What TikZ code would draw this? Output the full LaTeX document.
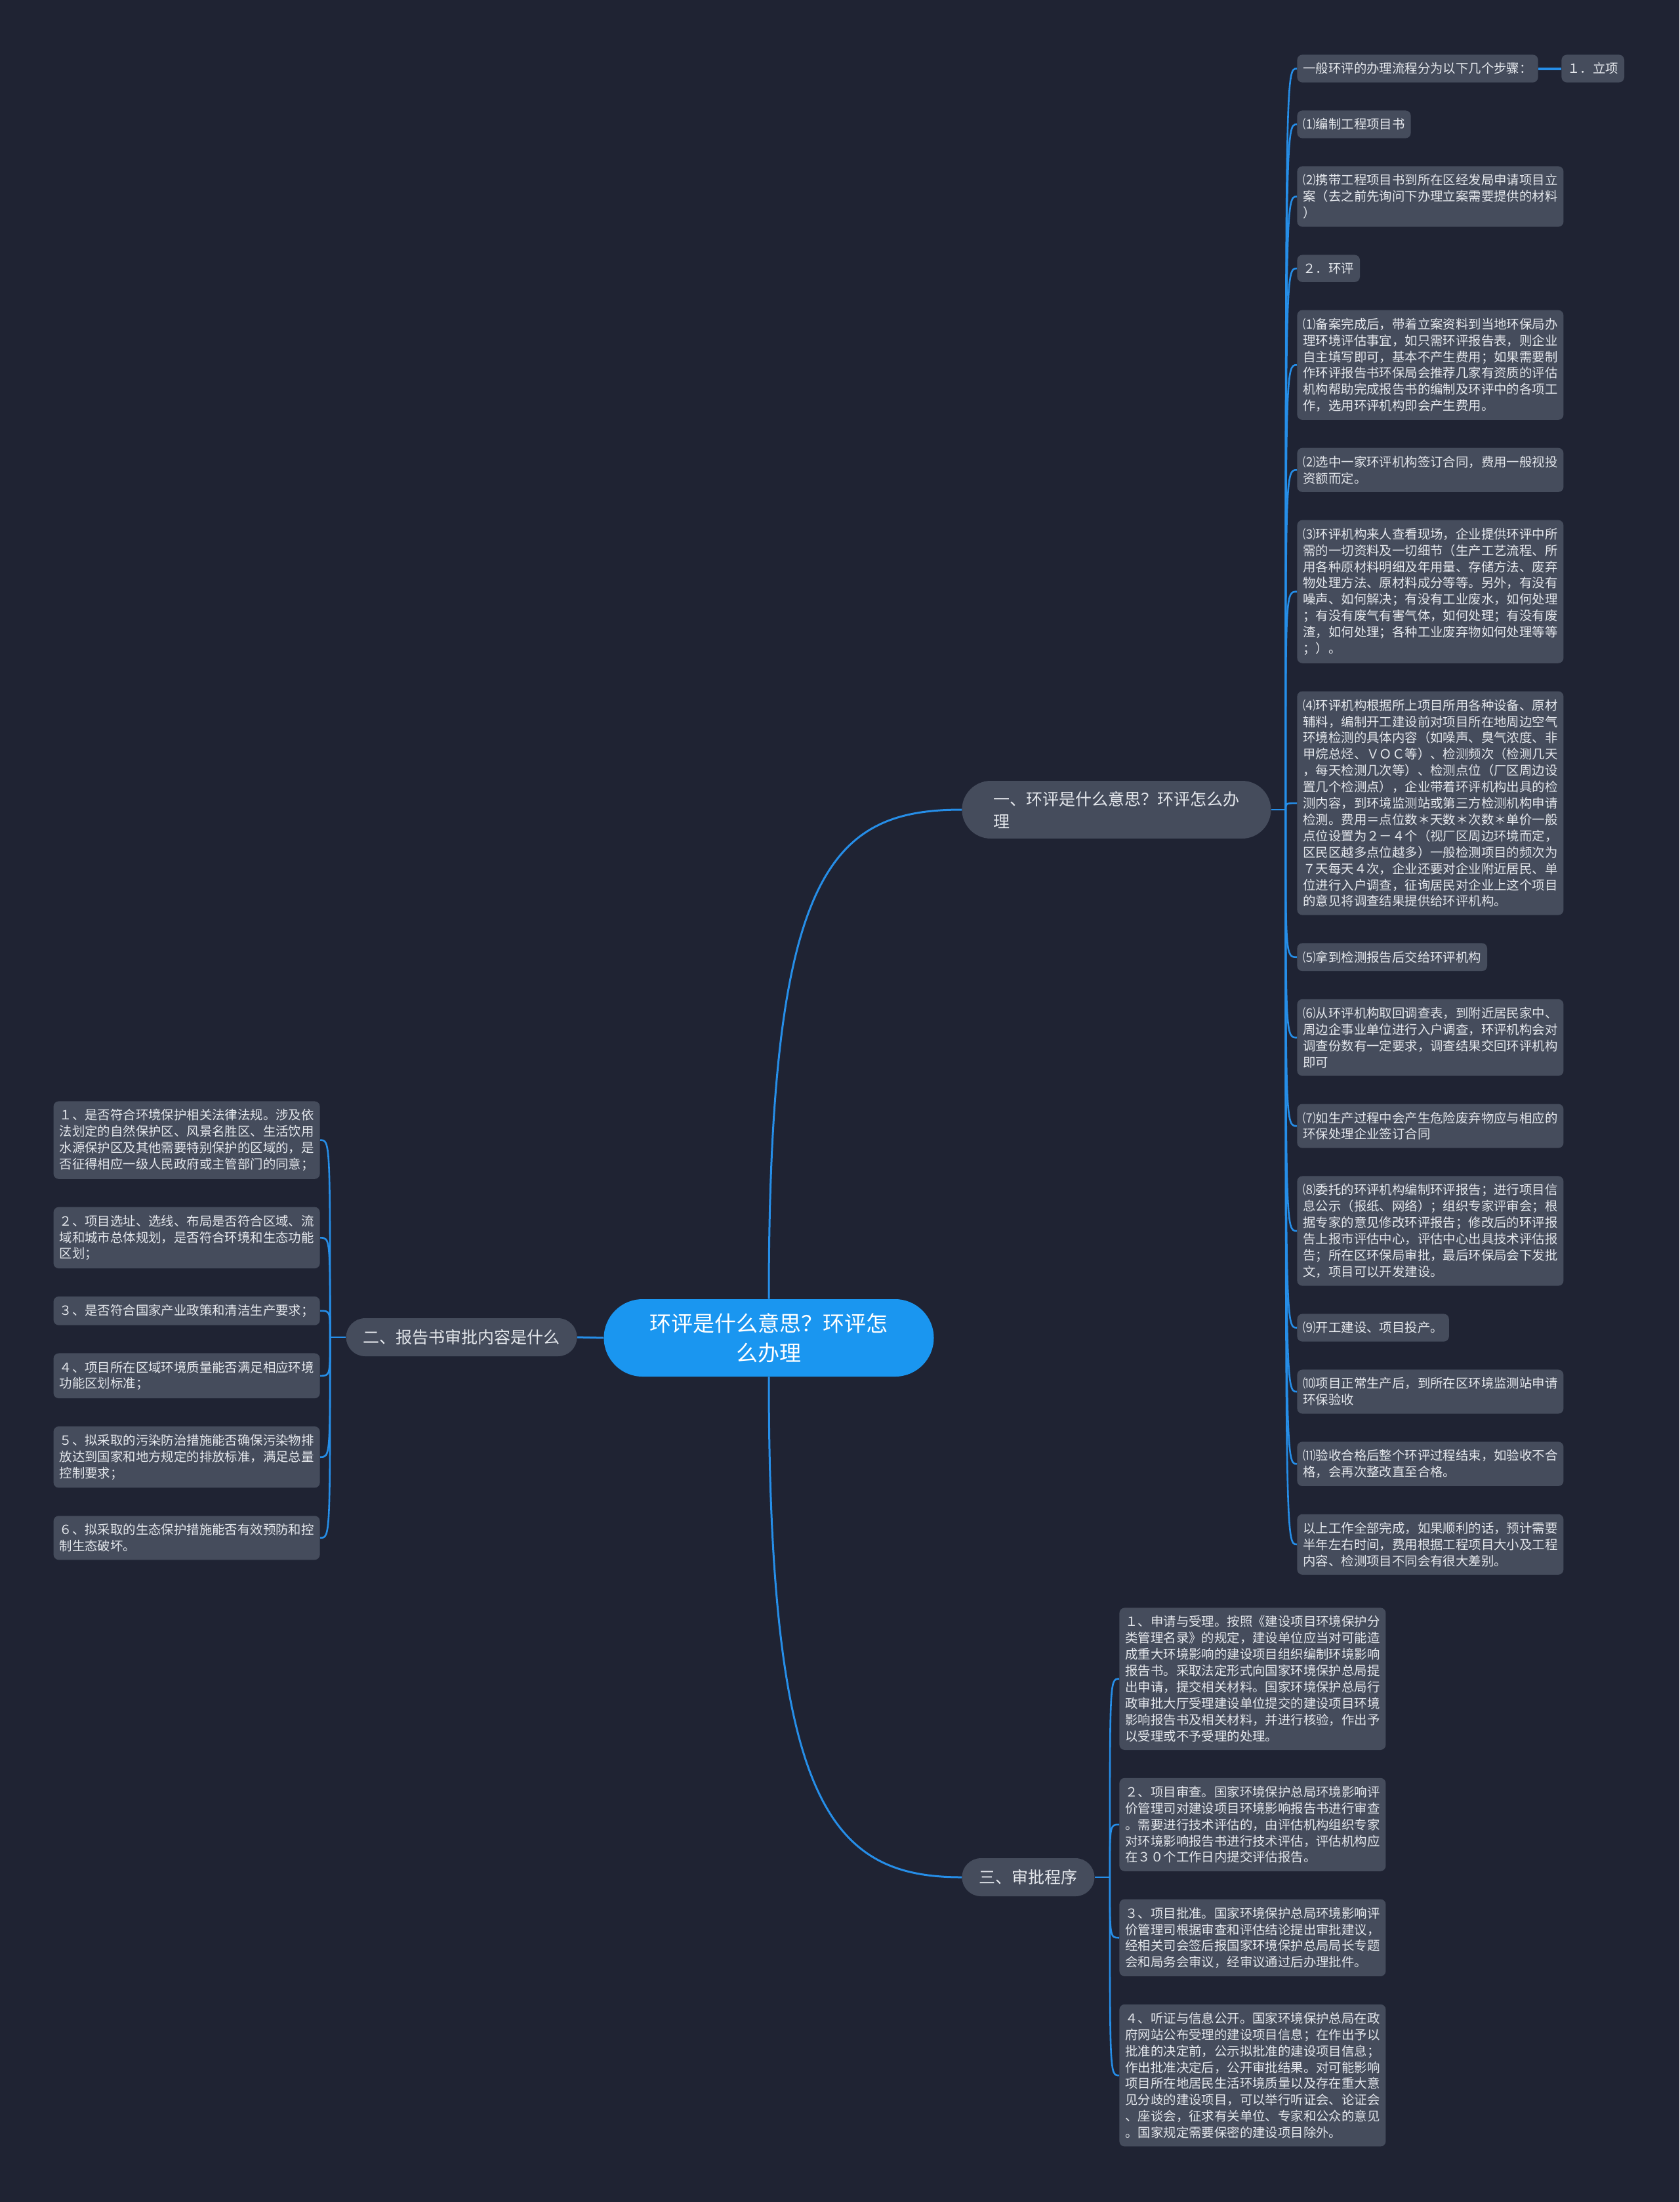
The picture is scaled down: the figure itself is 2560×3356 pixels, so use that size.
\documentclass[tikz,border=0pt]{standalone}
\usepackage{fontspec}
\setmainfont{Noto Sans CJK SC}
\usepackage{tikz}
\usetikzlibrary{positioning, calc}
\definecolor{mapbg}{RGB}{31,35,51}
\definecolor{mapblue}{RGB}{38,142,232}
\definecolor{rootblue}{RGB}{26,150,240}
\definecolor{boxgray}{RGB}{69,76,92}
\definecolor{textlight}{RGB}{228,231,236}

\begin{document}
\begin{tikzpicture}[
  x=0.5pt, y=-0.5pt,
  every node/.style={text=textlight},
  rootnode/.style={
    fill=rootblue, text=white, rounded corners=29.5pt, align=center,
    minimum width=251.5pt, minimum height=59pt, inner sep=0pt,
    font=\fontsize{16.5pt}{22.5pt}\selectfont
  },
  topic/.style={
    fill=boxgray, rounded corners=14.5pt, align=left,
    inner xsep=13pt, inner ysep=0pt, minimum height=29pt,
    font=\fontsize{12.5pt}{17pt}\selectfont
  },
  leaf/.style={
    fill=boxgray, rounded corners=4pt, align=left,
    inner xsep=4.5pt, inner ysep=6.05pt,
    font=\fontsize{9.7pt}{12.45pt}\selectfont
  },
  trunk/.style={draw=mapblue, line width=1.5pt},
  link/.style={draw=mapblue, line width=1.3pt}
]

  % 背景
  \fill[mapbg, use as bounding box] (0,0) rectangle (2560,3356);

  % 中心主题
  \node[rootnode] (root) at (1172,2039) {环评是什么意思？环评怎\\么办理};

  % 一级分支
  \node[topic, anchor=west, minimum width=235.5pt, minimum height=44pt,
    rounded corners=22pt, inner xsep=21pt] (what) at (1466,1234)
    {一、环评是什么意思？环评怎么办\\理};
  \node[topic, anchor=east] (report) at (880,2038) {二、报告书审批内容是什么};
  \node[topic, anchor=west] (proc) at (1466,2861) {三、审批程序};

  % 一、办理流程（右侧列）
  \node[leaf, anchor=north west] (r0) at (1977,83) {一般环评的办理流程分为以下几个步骤：};
  \node[leaf, right=17.5pt of r0] (r0a) {１．立项};
  \node[leaf, below right=21pt and 0pt of r0.south west] (r1) {⑴编制工程项目书};
  \node[leaf, below right=21pt and 0pt of r1.south west] (r2)
    {⑵携带工程项目书到所在区经发局申请项目立\\案（去之前先询问下办理立案需要提供的材料\\）};
  \node[leaf, below right=21pt and 0pt of r2.south west] (r3) {２．环评};
  \node[leaf, below right=21pt and 0pt of r3.south west] (r4)
    {⑴备案完成后，带着立案资料到当地环保局办\\理环境评估事宜，如只需环评报告表，则企业\\自主填写即可，基本不产生费用；如果需要制\\作环评报告书环保局会推荐几家有资质的评估\\机构帮助完成报告书的编制及环评中的各项工\\作，选用环评机构即会产生费用。};
  \node[leaf, below right=21pt and 0pt of r4.south west] (r5)
    {⑵选中一家环评机构签订合同，费用一般视投\\资额而定。};
  \node[leaf, below right=21pt and 0pt of r5.south west] (r6)
    {⑶环评机构来人查看现场，企业提供环评中所\\需的一切资料及一切细节（生产工艺流程、所\\用各种原材料明细及年用量、存储方法、废弃\\物处理方法、原材料成分等等。另外，有没有\\噪声、如何解决；有没有工业废水，如何处理\\；有没有废气有害气体，如何处理；有没有废\\渣，如何处理；各种工业废弃物如何处理等等\\；）。};
  \node[leaf, below right=21pt and 0pt of r6.south west] (r7)
    {⑷环评机构根据所上项目所用各种设备、原材\\辅料，编制开工建设前对项目所在地周边空气\\环境检测的具体内容（如噪声、臭气浓度、非\\甲烷总烃、ＶＯＣ等）、检测频次（检测几天\\，每天检测几次等）、检测点位（厂区周边设\\置几个检测点），企业带着环评机构出具的检\\测内容，到环境监测站或第三方检测机构申请\\检测。费用＝点位数＊天数＊次数＊单价一般\\点位设置为２－４个（视厂区周边环境而定，\\区民区越多点位越多）一般检测项目的频次为\\７天每天４次，企业还要对企业附近居民、单\\位进行入户调查，征询居民对企业上这个项目\\的意见将调查结果提供给环评机构。};
  \node[leaf, below right=21pt and 0pt of r7.south west] (r8) {⑸拿到检测报告后交给环评机构};
  \node[leaf, below right=21pt and 0pt of r8.south west] (r9)
    {⑹从环评机构取回调查表，到附近居民家中、\\周边企事业单位进行入户调查，环评机构会对\\调查份数有一定要求，调查结果交回环评机构\\即可};
  \node[leaf, below right=21pt and 0pt of r9.south west] (r10)
    {⑺如生产过程中会产生危险废弃物应与相应的\\环保处理企业签订合同};
  \node[leaf, below right=21pt and 0pt of r10.south west] (r11)
    {⑻委托的环评机构编制环评报告；进行项目信\\息公示（报纸、网络）；组织专家评审会；根\\据专家的意见修改环评报告；修改后的环评报\\告上报市评估中心，评估中心出具技术评估报\\告；所在区环保局审批，最后环保局会下发批\\文，项目可以开发建设。};
  \node[leaf, below right=21pt and 0pt of r11.south west] (r12) {⑼开工建设、项目投产。};
  \node[leaf, below right=21pt and 0pt of r12.south west] (r13)
    {⑽项目正常生产后，到所在区环境监测站申请\\环保验收};
  \node[leaf, below right=21pt and 0pt of r13.south west] (r14)
    {⑾验收合格后整个环评过程结束，如验收不合\\格，会再次整改直至合格。};
  \node[leaf, below right=21pt and 0pt of r14.south west] (r15)
    {以上工作全部完成，如果顺利的话，预计需要\\半年左右时间，费用根据工程项目大小及工程\\内容、检测项目不同会有很大差别。};

  % 二、审批内容（左侧列）
  \node[leaf, anchor=north east] (l1) at (488,1678)
    {１、是否符合环境保护相关法律法规。涉及依\\法划定的自然保护区、风景名胜区、生活饮用\\水源保护区及其他需要特别保护的区域的，是\\否征得相应一级人民政府或主管部门的同意；};
  \node[leaf, below left=21pt and 0pt of l1.south east] (l2)
    {２、项目选址、选线、布局是否符合区域、流\\域和城市总体规划，是否符合环境和生态功能\\区划；};
  \node[leaf, below left=21pt and 0pt of l2.south east] (l3) {３、是否符合国家产业政策和清洁生产要求；};
  \node[leaf, below left=21pt and 0pt of l3.south east] (l4)
    {４、项目所在区域环境质量能否满足相应环境\\功能区划标准；};
  \node[leaf, below left=21pt and 0pt of l4.south east] (l5)
    {５、拟采取的污染防治措施能否确保污染物排\\放达到国家和地方规定的排放标准，满足总量\\控制要求；};
  \node[leaf, below left=21pt and 0pt of l5.south east] (l6)
    {６、拟采取的生态保护措施能否有效预防和控\\制生态破坏。};

  % 三、审批程序（下方列）
  \node[leaf, anchor=north west] (p1) at (1706,2450)
    {１、申请与受理。按照《建设项目环境保护分\\类管理名录》的规定，建设单位应当对可能造\\成重大环境影响的建设项目组织编制环境影响\\报告书。采取法定形式向国家环境保护总局提\\出申请，提交相关材料。国家环境保护总局行\\政审批大厅受理建设单位提交的建设项目环境\\影响报告书及相关材料，并进行核验，作出予\\以受理或不予受理的处理。};
  \node[leaf, below right=21pt and 0pt of p1.south west] (p2)
    {２、项目审查。国家环境保护总局环境影响评\\价管理司对建设项目环境影响报告书进行审查\\。需要进行技术评估的，由评估机构组织专家\\对环境影响报告书进行技术评估，评估机构应\\在３０个工作日内提交评估报告。};
  \node[leaf, below right=21pt and 0pt of p2.south west] (p3)
    {３、项目批准。国家环境保护总局环境影响评\\价管理司根据审查和评估结论提出审批建议，\\经相关司会签后报国家环境保护总局局长专题\\会和局务会审议，经审议通过后办理批件。};
  \node[leaf, below right=21pt and 0pt of p3.south west] (p4)
    {４、听证与信息公开。国家环境保护总局在政\\府网站公布受理的建设项目信息；在作出予以\\批准的决定前，公示拟批准的建设项目信息；\\作出批准决定后，公开审批结果。对可能影响\\项目所在地居民生活环境质量以及存在重大意\\见分歧的建设项目，可以举行听证会、论证会\\、座谈会，征求有关单位、专家和公众的意见\\。国家规定需要保密的建设项目除外。};

  % 中心到一级分支
  \draw[trunk] (root.north) .. controls +(0,-650) and +(-200,0) .. (what.west);
  \draw[trunk] (root.south) .. controls +(0,650) and +(-200,0) .. (proc.west);
  \draw[trunk] (root.west) -- (report.east);

  % 一级分支到各条目
  \draw[link] (what.east) -- ++(22,0) coordinate (jwhat);
  \foreach \leafid in {r0,r1,r2,r3,r4,r5,r6,r7,r8,r9,r10,r11,r12,r13,r14,r15}
    \draw[link] (jwhat) .. controls (jwhat |- \leafid.west) and (jwhat |- \leafid.west) .. (\leafid.west);
  \draw[link, line width=2pt] (r0) -- (r0a);

  \draw[link] (report.west) -- ++(-24,0) coordinate (jreport);
  \foreach \leafid in {l1,l2,l3,l4,l5,l6}
    \draw[link] (jreport) .. controls (jreport |- \leafid.east) and (jreport |- \leafid.east) .. (\leafid.east);

  \draw[link] (proc.east) -- ++(23,0) coordinate (jproc);
  \foreach \leafid in {p1,p2,p3,p4}
    \draw[link] (jproc) .. controls (jproc |- \leafid.west) and (jproc |- \leafid.west) .. (\leafid.west);

\end{tikzpicture}
\end{document}
